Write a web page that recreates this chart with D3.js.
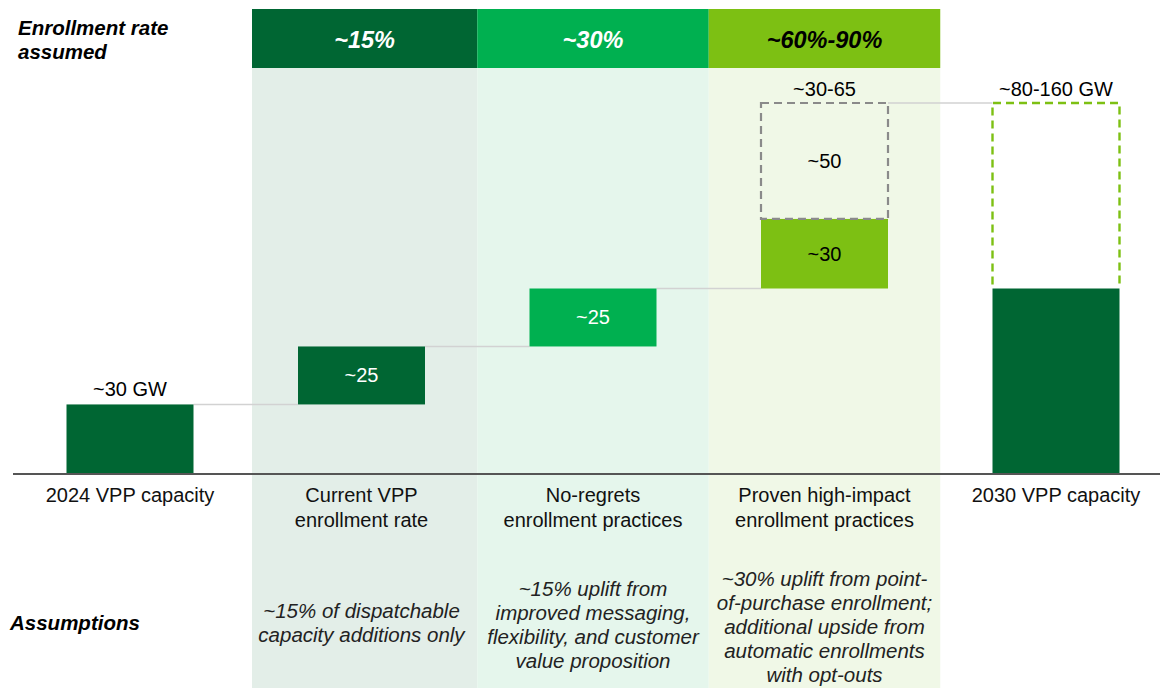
<!DOCTYPE html>
<html>
<head>
<meta charset="utf-8">
<script src="https://cdn.jsdelivr.net/npm/d3@7"></script>
<style>
  html, body { margin: 0; padding: 0; background: #fff; }
  svg { display: block; font-family: "Liberation Sans", Arial, sans-serif; }
</style>
</head>
<body>
<svg id="chart" width="1160" height="688"></svg>
<script>
// ---------- data ----------
const categories = ["2024 VPP capacity", "Current VPP enrollment rate", "No-regrets enrollment practices", "Proven high-impact enrollment practices", "2030 VPP capacity"];
const categoryLines = [["2024 VPP capacity"], ["Current VPP", "enrollment rate"], ["No-regrets", "enrollment practices"], ["Proven high-impact", "enrollment practices"], ["2030 VPP capacity"]];
const startValue = 30;                 // 2024 VPP capacity (GW)
const increments = [25, 25, 30];       // solid waterfall steps
const upsideIncrement = 50;            // dashed upside in high-impact column
const endLow = 80;                     // 2030 solid bar
const endHigh = 160;                   // 2030 dashed top
const barLabels = ["~30 GW", "~25", "~25", "~30"];
const upsideLabel = "~50";
const rangeLabels = ["~30-65", "~80-160 GW"];
const enrollmentRates = ["~15%", "~30%", "~60%-90%"];
const assumptions = [
  ["~15% of dispatchable", "capacity additions only"],
  ["~15% uplift from", "improved messaging,", "flexibility, and customer", "value proposition"],
  ["~30% uplift from point-", "of-purchase enrollment;", "additional upside from", "automatic enrollments", "with opt-outs"]
];

// ---------- styles ----------
const dark = "#006633", mid = "#00b050", lime = "#7dc013";
const headerColors = [dark, mid, lime];
const headerText = ["#fff", "#fff", "#000"];
const bandColors = ["#e3eee8", "#e5f6ec", "#f0f8e7"];
const stepColors = [dark, dark, mid, lime];
const stepTextColors = ["#000", "#fff", "#fff", "#000"];
const fs = 20;

const svg = d3.select("#chart");
const x = d3.scalePoint().domain(categories).range([130, 1056]);
const step = x.step();
const barW = 127;
const y = d3.scaleLinear().domain([0, endHigh]).range([474, 103]);

// ---------- column bands + headers ----------
const mids = categories.slice(1, 4);
mids.forEach((c, i) => {
  const left = i === 0 ? 252 : x(c) - step / 2;
  const right = x(c) + step / 2;
  svg.append("rect").attr("x", left).attr("y", 68).attr("width", right - left).attr("height", 620).attr("fill", bandColors[i]);
  svg.append("rect").attr("x", left).attr("y", 9).attr("width", right - left).attr("height", 59).attr("fill", headerColors[i]);
  svg.append("text").attr("x", (left + right) / 2).attr("y", 40).attr("text-anchor", "middle").attr("dominant-baseline", "central")
    .attr("font-size", 23.5).attr("font-weight", "bold").attr("font-style", "italic").attr("fill", headerText[i]).text(enrollmentRates[i]);
});

// ---------- waterfall segments ----------
const segs = [];
let cum = 0;
segs.push({ cat: categories[0], y0: 0, y1: startValue });
cum = startValue;
increments.forEach((v, i) => { segs.push({ cat: categories[i + 1], y0: cum, y1: cum + v }); cum += v; });

// connectors
const connectors = [];
for (let i = 0; i < segs.length - 1; i++) connectors.push({ x1: x(segs[i].cat) + barW / 2, x2: x(segs[i + 1].cat) - barW / 2, v: segs[i].y1 });
connectors.push({ x1: x(categories[3]) + barW / 2, x2: x(categories[4]) - barW / 2, v: endHigh });
svg.selectAll(".conn").data(connectors).join("line")
  .attr("x1", d => d.x1).attr("x2", d => d.x2).attr("y1", d => y(d.v)).attr("y2", d => y(d.v))
  .attr("stroke", "#d2d2d2").attr("stroke-width", 1.5);

svg.selectAll(".seg").data(segs).join("rect")
  .attr("x", d => x(d.cat) - barW / 2).attr("width", barW)
  .attr("y", d => y(d.y1)).attr("height", d => y(d.y0) - y(d.y1))
  .attr("fill", (d, i) => stepColors[i]);

// labels inside / above
segs.forEach((d, i) => {
  const ty = i === 0 ? y(d.y1) - 15 : (y(d.y0) + y(d.y1)) / 2;
  svg.append("text").attr("x", x(d.cat)).attr("y", ty).attr("text-anchor", "middle").attr("dominant-baseline", "central")
    .attr("font-size", fs).attr("fill", stepTextColors[i]).text(barLabels[i]);
});

// dashed upside box (gray)
const upCat = categories[3];
svg.append("rect").attr("x", x(upCat) - barW / 2).attr("width", barW)
  .attr("y", y(cum + upsideIncrement)).attr("height", y(cum) - y(cum + upsideIncrement))
  .attr("fill", "none").attr("stroke", "#8a8a8a").attr("stroke-width", 2.2).attr("stroke-dasharray", "8,5");
svg.append("text").attr("x", x(upCat)).attr("y", (y(cum) + y(cum + upsideIncrement)) / 2).attr("text-anchor", "middle")
  .attr("dominant-baseline", "central").attr("font-size", fs).attr("fill", "#000").text(upsideLabel);
svg.append("text").attr("x", x(upCat)).attr("y", y(cum + upsideIncrement) - 14).attr("text-anchor", "middle")
  .attr("dominant-baseline", "central").attr("font-size", fs).attr("fill", "#000").text(rangeLabels[0]);

// 2030 bar
const endCat = categories[4];
svg.append("rect").attr("x", x(endCat) - barW / 2).attr("width", barW)
  .attr("y", y(endLow)).attr("height", y(0) - y(endLow)).attr("fill", dark);
svg.append("path")
  .attr("d", `M${x(endCat) - barW / 2},${y(endLow) - 4} V${y(endHigh)} H${x(endCat) + barW / 2} V${y(endLow) - 4}`)
  .attr("fill", "none").attr("stroke", lime).attr("stroke-width", 2.4).attr("stroke-dasharray", "8,5");
svg.append("text").attr("x", x(endCat)).attr("y", y(endHigh) - 14).attr("text-anchor", "middle")
  .attr("dominant-baseline", "central").attr("font-size", fs).attr("fill", "#000").text(rangeLabels[1]);

// axis line
svg.append("line").attr("x1", 13).attr("x2", 1160).attr("y1", y(0)).attr("y2", y(0)).attr("stroke", "#555").attr("stroke-width", 2);

// category labels
categories.forEach((c, i) => {
  const t = svg.append("text").attr("x", x(c)).attr("text-anchor", "middle").attr("font-size", fs).attr("fill", "#111");
  categoryLines[i].forEach((ln, j) => t.append("tspan").attr("x", x(c)).attr("y", 502 + j * 25).text(ln));
});

// left titles
const lt = svg.append("text").attr("font-size", 20.5).attr("font-weight", "bold").attr("font-style", "italic").attr("fill", "#000");
lt.append("tspan").attr("x", 18).attr("y", 35).text("Enrollment rate");
lt.append("tspan").attr("x", 18).attr("y", 59).text("assumed");
svg.append("text").attr("x", 10).attr("y", 622).attr("dominant-baseline", "central").attr("font-size", 20.5)
  .attr("font-weight", "bold").attr("font-style", "italic").attr("fill", "#000").text("Assumptions");

// assumptions
const aCenters = [622, 624, 626];
assumptions.forEach((lines, i) => {
  const c = mids[i];
  const n = lines.length;
  lines.forEach((ln, j) => {
    svg.append("text").attr("x", x(c)).attr("y", aCenters[i] + (j - (n - 1) / 2) * 24)
      .attr("text-anchor", "middle").attr("dominant-baseline", "central")
      .attr("font-size", 20.5).attr("font-style", "italic").attr("fill", "#222").text(ln);
  });
});
</script>
</body>
</html>
